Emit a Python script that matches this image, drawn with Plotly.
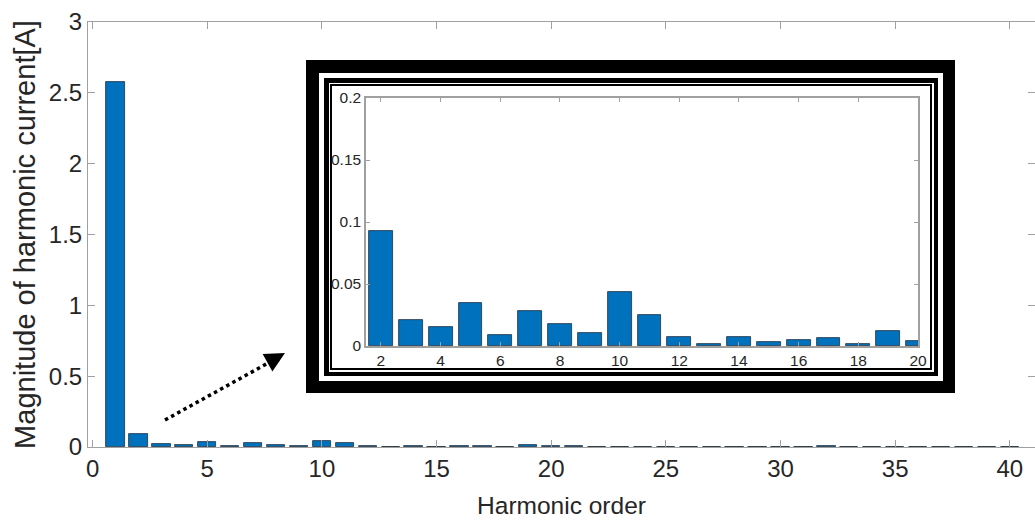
import plotly.graph_objects as go

W, H = 1035, 523

# ---------------- data ----------------
orders = list(range(1, 41))
magnitude = [2.58, 0.093, 0.021, 0.0155, 0.0347, 0.0088, 0.0286, 0.0176, 0.0104, 0.0438,
             0.0248, 0.0069, 0.0013, 0.0069, 0.0032, 0.0048, 0.0064, 0.0016, 0.0125, 0.0037,
             0.006, 0.002, 0.003, 0.001, 0.002, 0.001, 0.001, 0.002, 0.001, 0.001,
             0.003, 0.004, 0.002, 0.003, 0.001, 0.001, 0.001, 0.001, 0.002, 0.001]
main_xticks = [0, 5, 10, 15, 20, 25, 30, 35, 40]
main_yticks = [0, 0.5, 1, 1.5, 2, 2.5, 3]
inset_orders = orders[1:20]
inset_magnitude = magnitude[1:20]
inset_xticks = [2, 4, 6, 8, 10, 12, 14, 16, 18, 20]
inset_yticks = [0, 0.05, 0.1, 0.15, 0.2]
inset_ylabels = ["0", "0.05", "0.1", "0.15", "0.2"]

BAR = "#0072BD"
AX = "#a0a0a0"
TXT = "#262626"


def px(x):
    return x / W


def py(y):
    return 1 - y / H


fig = go.Figure()
fig.add_trace(go.Bar(x=orders, y=magnitude, width=0.8, marker=dict(color=BAR, line=dict(color="#1f2f3f", width=0.8)),
                     xaxis="x", yaxis="y", showlegend=False))
fig.add_trace(go.Bar(x=inset_orders, y=inset_magnitude, width=0.8,
                     marker=dict(color=BAR, line=dict(color="#1f2f3f", width=0.8)),
                     xaxis="x2", yaxis="y2", showlegend=False))

shapes = []


def rect(x0, y0, x1, y1, color):
    shapes.append(dict(type="rect", xref="paper", yref="paper", x0=px(x0), x1=px(x1), y0=py(y1), y1=py(y0),
                       fillcolor=color, line=dict(width=0), layer="below"))


# inset frame
rect(306, 60, 955, 393, "black")
rect(319, 73, 943, 381, "white")
rect(324, 78, 938, 376, "black")
rect(329, 83, 934, 372, "white")
rect(330, 84, 932, 370, "black")
rect(332, 86, 930, 368, "white")

# dotted arrow line
shapes.append(dict(type="line", xref="paper", yref="paper", x0=px(165), y0=py(420), x1=px(279), y1=py(357),
                   line=dict(color="black", width=3.5, dash="dot")))

annotations = [dict(xref="paper", yref="paper", x=px(285), y=py(353), ax=-9, ay=5, showarrow=True,
                    arrowhead=2, arrowsize=1.6, arrowwidth=2.5, arrowcolor="black", text="")]

fig.update_layout(
    width=W, height=H,
    margin=dict(l=0, r=0, t=0, b=0),
    paper_bgcolor="white", plot_bgcolor="white",
    font=dict(family="Liberation Sans, Arial, sans-serif", color=TXT),
    bargap=0,
    shapes=shapes,
    annotations=annotations,
    xaxis=dict(domain=[px(88), 1.0], range=[-0.2, 41.1], tickvals=main_xticks, ticks="inside", ticklen=7,
               tickcolor=AX, showline=True, linecolor=AX, linewidth=1, mirror="ticks", showgrid=False,
               zeroline=False, tickfont=dict(size=24, color=TXT), automargin=False,
               title=dict(text="Harmonic order", font=dict(size=24.5, color=TXT), standoff=16), anchor="y"),
    yaxis=dict(domain=[py(447), py(22)], range=[0, 3], tickvals=main_yticks, ticks="inside", ticklen=7,
               tickcolor=AX, showline=True, linecolor=AX, linewidth=1, mirror="ticks", showgrid=False,
               zeroline=False, tickfont=dict(size=24, color=TXT), automargin=False,
               title=dict(text="Magnitude of harmonic current[A]", font=dict(size=29, color=TXT), standoff=4),
               anchor="x"),
    xaxis2=dict(domain=[px(366), px(918)], range=[1.5, 20.0], tickvals=inset_xticks, ticks="inside", ticklen=4,
                tickcolor=AX, showline=True, linecolor=AX, linewidth=1.5, mirror="ticks", showgrid=False,
                zeroline=False, tickfont=dict(size=15.5, color=TXT), automargin=False, anchor="y2"),
    yaxis2=dict(domain=[py(346), py(98)], range=[0, 0.2], tickvals=inset_yticks, ticktext=inset_ylabels,
                ticks="inside", ticklen=4, tickcolor=AX, showline=True, linecolor=AX, linewidth=1.5,
                mirror="ticks", showgrid=False, zeroline=False, tickfont=dict(size=15.5, color=TXT),
                automargin=False, anchor="x2"),
)

fig.write_html("out.html", config={"displayModeBar": False},
               post_script="document.body.style.margin='0';")
